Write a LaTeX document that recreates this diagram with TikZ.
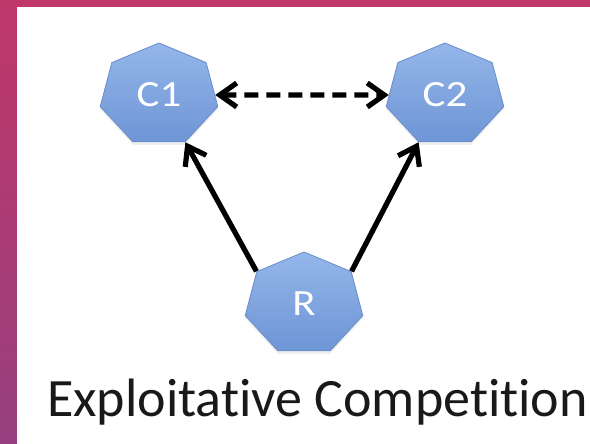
\documentclass[tikz,border=0pt]{standalone}
\usepackage{fontspec}
\setmainfont{Carlito}[RawFeature={-liga;-clig;-dlig;-calt}]
\usetikzlibrary{shapes.geometric,arrows.meta,shadows}

\definecolor{bgtop}{HTML}{C0386A}
\definecolor{bgbottom}{HTML}{963F7F}
\definecolor{hepttop}{HTML}{94B6EA}
\definecolor{heptbottom}{HTML}{6E95D5}
\definecolor{heptline}{HTML}{6A8DCA}

\tikzset{
  species/.style={regular polygon, regular polygon sides=7, minimum size=104pt,
    inner sep=0pt, xscale=1.16, transform shape,
    top color=hepttop, bottom color=heptbottom, draw=heptline, line width=0.8pt,
    drop shadow={shadow xshift=0pt, shadow yshift=-3pt, opacity=0.12},
    text=white, font=\fontsize{37}{37}\selectfont},
  barb/.tip={Straight Barb[length=17pt,width=24pt]},
  link/.style={line width=5.2pt, -barb},
}

\begin{document}
\begin{tikzpicture}[x=1pt,y=1pt]
    % 绘制背景
    \useasboundingbox (0,0) rectangle (590,444);
    \fill[top color=bgtop, bottom color=bgbottom] (0,0) rectangle (590,444);
    \fill[white] (17,0) rectangle (590,437);

    % 绘制消费者C1, C2与资源R
    \node[species] (C1) at (159,349) {C1};
    \node[species] (C2) at (445,349) {C2};
    \node[species] (R) at (304,140) {R};

    % 绘制资源到消费者的箭头
    \draw[link] (R.corner 2) -- (C1.corner 5);
    \draw[link] (R.corner 7) -- (C2.corner 4);

    % 绘制消费者之间的竞争
    \draw[link, barb-barb, dash pattern=on 14pt off 8pt] (C1) -- (C2);

    % 绘制标题
    \node[anchor=base west, inner sep=0pt, text=black!90,
      font=\fontsize{54}{54}\selectfont] (title) at (47,27) {Exploitative Competition};
\end{tikzpicture}
\end{document}
